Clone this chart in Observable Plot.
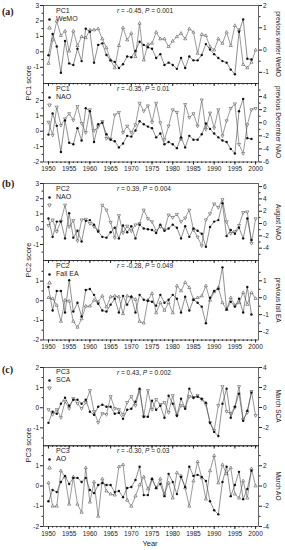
<!DOCTYPE html>
<html><head><meta charset="utf-8">
<script src="https://cdn.jsdelivr.net/npm/d3@7"></script>
<script src="https://cdn.jsdelivr.net/npm/@observablehq/plot@0.6"></script>
<style>
body{margin:0;background:#fff;}
#chart{position:relative;width:285px;height:550px;font-family:"Liberation Sans",Arial,sans-serif;color:#222;overflow:hidden;}
#chart > svg{position:absolute;left:0;}
.t{position:absolute;white-space:nowrap;font-size:7px;line-height:7px;}
.m{position:absolute;width:5px;height:5px;}
.lab{position:absolute;font-family:"Liberation Serif","Times New Roman",serif;font-weight:bold;font-size:10px;line-height:10px;}
.rot{position:absolute;white-space:nowrap;font-size:6.5px;line-height:7px;}
</style></head><body><div id="chart"></div><script>
const years = [1950,1951,1952,1953,1954,1955,1956,1957,1958,1959,1960,1961,1962,1963,1964,1965,1966,1967,1968,1969,1970,1971,1972,1973,1974,1975,1976,1977,1978,1979,1980,1981,1982,1983,1984,1985,1986,1987,1988,1989,1990,1991,1992,1993,1994,1995,1996,1997,1998,1999,2000];
const majorYears = [1950,1955,1960,1965,1970,1975,1980,1985,1990,1995,2000];

const pc1 = [-0.22,1.15,0.35,-1.35,0.7,-0.75,-0.85,0.2,-0.6,1.5,
 1.3,-0.7,0.45,0.55,-0.2,-0.55,-0.65,-1.05,-0.8,-0.3,
 -0.35,0.05,0.65,0.45,0.3,0.2,-0.4,-0.15,-0.85,-0.7,
 -0.85,-1.1,-0.4,-1.05,-0.3,-0.55,-0.55,-0.2,0.5,0.15,
 -0.15,-0.4,-0.6,-0.7,-1.15,-1.45,1.3,2.1,-0.45,-0.5];
const wemo = [-0.6,0.45,1.3,0.65,0.85,-0.05,0.85,0.2,0.6,0.55,
 0.9,0.9,0.95,0.5,0.1,-0.45,-0.8,0.2,1.0,0.45,
 0.75,-0.3,1.2,-0.45,0.25,0.3,0.8,0.5,0.5,0.15,
 0.4,0.6,0.75,0.5,0.95,0.8,-0.15,0.7,0.65,0.15,
 0.0,0.5,0.3,0.8,0.2,1.1,0.9,-0.65,-0.8,-0.55,0.0];
const naoDec = [0.1,-1.9,2.4,-0.4,0.6,1.4,0.4,2.5,-0.1,-1.5,
 2.0,-1.2,-0.6,0.2,-2.4,-2.5,1.2,1.6,-1.5,-0.5,
 -1.5,-0.3,3.0,1.8,2.6,0.1,3.0,0.0,-2.6,-0.5,
 2.0,1.6,-2.5,2.8,0.8,1.4,-0.5,3.5,-1.0,1.5,
 -0.8,2.0,-2.0,0.3,2.2,2.9,-3.3,-4.7,-0.3,2.0,2.2];
const pc2 = [0.7,-0.5,0.5,0.5,-0.6,1.05,-0.55,-0.1,-0.8,0.55,
 0.6,0.3,-0.15,-0.5,-0.55,-0.2,0.1,-0.6,0.25,-0.2,
 0.2,-0.6,0.3,0.05,0.0,-0.05,-0.25,0.3,-0.1,0.05,
 0.3,0.1,-0.6,0.2,-0.5,0.05,-0.1,-0.3,-1.15,0.15,
 0.5,0.6,1.7,-0.45,-0.05,-0.3,0.1,-0.6,0.7,-0.7];
const naoAug = [-0.3,0.6,-1.3,0.4,3.0,-0.5,0.5,-2.8,0.6,0.7,
 0.0,-0.5,-1.2,3.0,2.2,0.2,-2.3,1.3,-1.5,-0.4,
 -1.2,-0.2,0.0,2.2,0.8,0.3,-1.2,-0.5,-1.0,1.4,
 1.0,1.5,0.3,0.9,2.2,-1.0,-2.2,-3.6,0.6,1.6,
 3.2,2.6,3.9,0.3,-1.6,-1.3,-0.3,1.8,1.9,-3.2,0.8];
const fallEA = [0.0,-0.05,-0.45,-1.4,-0.15,-0.2,-1.4,-1.75,-1.25,-0.5,
 -0.5,-0.15,-0.25,0.1,-0.55,0.05,0.1,0.05,-0.95,0.1,
 0.05,-0.1,-1.4,-1.5,-0.15,0.25,-0.9,-0.3,-0.75,-0.3,
 -0.9,0.7,0.4,0.9,0.6,-0.1,0.0,0.1,0.7,-0.15,
 0.35,0.6,-0.3,-0.7,0.0,-0.45,-0.3,0.3,-0.4,0.3,-0.05];
const pc3 = [-0.75,-0.2,-0.3,0.2,0.5,0.1,0.4,0.4,0.2,0.4,
 -0.2,-0.35,0.05,0.15,0.05,0.05,-0.3,-0.25,-0.55,-0.1,
 -0.05,0.3,0.95,-0.45,-0.45,0.35,-0.1,0.1,-0.5,0.6,
 0.2,-0.4,0.45,-0.05,0.95,0.5,0.55,0.45,0.25,-0.75,
 -1.2,-1.4,0.2,0.95,-0.5,0.05,0.7,-0.65,-0.15,0.75];
const sca = [-0.2,-0.7,-0.2,-1.0,0.6,-0.1,0.9,0.4,-0.1,0.5,
 1.7,-0.4,-1.5,-0.6,-0.7,1.1,-0.1,-0.2,-0.7,0.5,
 1.1,0.2,1.7,-0.9,1.7,-0.2,0.8,0.3,0.5,-0.5,
 1.2,-0.8,0.2,0.0,1.1,1.0,1.2,0.8,0.3,-1.5,
 -2.3,0.2,2.1,-0.4,-0.6,0.0,2.1,-1.2,-0.5,1.6,-0.8];
const ao = [0.3,-2.0,-2.0,1.5,0.9,-1.8,0.9,-1.8,-2.6,1.8,
 -1.6,0.4,-3.0,0.7,-0.5,-0.8,-0.9,1.9,2.1,-1.4,
 -2.0,-1.0,0.1,0.9,-0.3,0.7,-0.2,0.7,-0.8,0.3,
 -1.2,1.3,1.0,-0.2,-2.0,0.5,2.4,0.8,-1.3,1.5,
 3.0,0.3,2.1,1.2,1.8,-0.8,-1.2,0.5,-1.2,1.7,0.0];

const panels = [
 {top:5, bottom:83, pc:pc1, idx:wemo, pcName:"PC1", idxName:"WeMO", down:false, lDom:[-2.05,3], lTicks:[-1,0,1,2,3], rDom:[-1.5,2], rTicks:[-1,0,1,2], rTitle:"previous winter WeMO", r:"-0.45", p:"0.001", xlab:false},
 {top:83, bottom:161.5, pc:pc1, idx:naoDec, pcName:"PC1", idxName:"NAO", down:true, lDom:[-2,3.1], lTicks:[-2,-1,0,1,2], rDom:[-6,6], rTicks:[-6,-4,-2,0,2,4], rTitle:"previous December NAO", r:"-0.35", p:"0.01", xlab:true},
 {top:183, bottom:260, pc:pc2, idx:naoAug, pcName:"PC2", idxName:"NAO", down:true, lDom:[-2.05,3], lTicks:[-1,0,1,2,3], rDom:[-6,6.5], rTicks:[-4,-2,0,2,4,6], rTitle:"August NAO", r:"0.39", p:"0.004", xlab:false},
 {top:260, bottom:339.5, pc:pc2, idx:fallEA, pcName:"PC2", idxName:"Fall EA", down:false, lDom:[-2,2.05], lTicks:[-2,-1,0,1], rDom:[-2.5,2.2], rTicks:[-2,-1,0,1], rTitle:"previous fall EA", r:"-0.28", p:"0.049", xlab:true},
 {top:366.5, bottom:445, pc:pc3, idx:sca, pcName:"PC3", idxName:"SCA", down:true, lDom:[-1.9,2], lTicks:[-1,0,1,2], rDom:[-3.85,4], rTicks:[-2,0,2,4], rTitle:"March SCA", r:"0.43", p:"0.002", xlab:false},
 {top:445, bottom:526, pc:pc3, idx:ao, pcName:"PC3", idxName:"AO", down:false, lDom:[-2,2], lTicks:[-2,-1,0,1], rDom:[-4,4], rTicks:[-4,-2,0,2], rTitle:"March AO", r:"-0.30", p:"0.03", xlab:true}
];
const groups = [
 {label:"(a)", labY:7, title:"PC1 score", mid:83},
 {label:"(b)", labY:179, title:"PC2 score", mid:260},
 {label:"(c)", labY:365, title:"PC3 score", mid:445}
];

const chart = document.getElementById("chart");
const FONT = "Liberation Sans, Arial, sans-serif";
const xDom = [1948.8, 2000.7];
const mt = 4, mb = 14;
const fmt = d => String(d);
const blank = () => "";
function halfTicks(t){ const s=t[1]-t[0]; const out=[]; for(const v of t){out.push(v+s/2);} out.push(t[0]-s/2); return out; }
function place(svg, top){ svg.style.position="absolute"; svg.style.top=top+"px"; svg.style.left="0px"; chart.appendChild(svg); }
function div(cls, html, css){ const d=document.createElement("div"); d.className=cls; d.innerHTML=html; Object.assign(d.style, css); chart.appendChild(d); return d; }
const circleIcon = '<svg width="5" height="5" viewBox="0 0 5 5"><circle cx="2.5" cy="2.5" r="1.3" fill="#111"/></svg>';
const upIcon = '<svg width="5" height="5" viewBox="0 0 5 5"><polygon points="2.5,0.8 4.3,4 0.7,4" fill="white" stroke="#444" stroke-width="0.6"/></svg>';
const downIcon = '<svg width="5" height="5" viewBox="0 0 5 5"><polygon points="2.5,4.2 4.3,1 0.7,1" fill="white" stroke="#444" stroke-width="0.6"/></svg>';

for (const p of panels) {
  const H = p.bottom - p.top + mt + mb;
  const style = {background:"transparent", overflow:"visible", fontSize:"6.5px", fontFamily:FONT, color:"#222"};
  const common = {width:285, height:H, marginLeft:43, marginRight:27, marginTop:mt, marginBottom:mb, style};
  const pcData = p.pc.map((v,i)=>({year:years[i], v}));
  const idxData = p.idx.map((v,i)=>({year:years[i], v}));
  const right = Plot.plot({...common,
    x:{domain:xDom, axis:null},
    y:{domain:p.rDom},
    marks:[
      Plot.axisY({anchor:"right", ticks:halfTicks(p.rTicks).filter(v=>v>p.rDom[0]&&v<p.rDom[1]), tickSize:1.5, tickFormat:blank, label:null, stroke:"#222"}),
      Plot.axisY({anchor:"right", ticks:p.rTicks, tickSize:3, tickPadding:1.5, tickFormat:fmt, label:null, stroke:"#222", fill:"#222"}),
      Plot.lineY(idxData, {x:"year", y:"v", stroke:"#555", strokeWidth:0.6}),
      Plot.dot(idxData, {x:"year", y:"v", symbol:"triangle", r:1.15, stroke:"#444", strokeWidth:0.55, fill:"white", rotate:p.down?180:0})
    ]});
  const left = Plot.plot({...common,
    x:{domain:xDom},
    y:{domain:p.lDom},
    marks:[
      Plot.axisX({ticks:years, tickSize:1.5, tickFormat:blank, label:null, stroke:"#222"}),
      Plot.axisX({ticks:majorYears, tickSize:3, tickPadding:1.5, tickFormat:p.xlab?fmt:blank, label:null, stroke:"#222", fill:"#222"}),
      Plot.axisY({ticks:halfTicks(p.lTicks).filter(v=>v>p.lDom[0]&&v<p.lDom[1]), tickSize:1.5, tickFormat:blank, label:null, stroke:"#222"}),
      Plot.axisY({ticks:p.lTicks, tickSize:3, tickPadding:1.5, tickFormat:fmt, label:null, stroke:"#222", fill:"#222"}),
      Plot.lineY(pcData, {x:"year", y:"v", stroke:"#444", strokeWidth:0.6}),
      Plot.dot(pcData, {x:"year", y:"v", r:1.2, fill:"#111"}),
      Plot.frame({stroke:"#222", strokeWidth:0.7})
    ]});
  place(right, p.top - mt);
  place(left, p.top - mt);
  div("m", circleIcon, {left:"47px", top:(p.top+2.5)+"px"});
  div("t", p.pcName, {left:"56px", top:(p.top+1.5)+"px"});
  div("m", p.down?downIcon:upIcon, {left:"47px", top:(p.top+10.5)+"px"});
  div("t", p.idxName, {left:"56px", top:(p.top+9.5)+"px"});
  div("t", "<i>r</i> = " + p.r + ", <i>P</i> = " + p.p, {left:"117px", top:(p.top+2)+"px", fontSize:"6.5px"});
  div("rot", p.rTitle, {left:"278px", top:((p.top+p.bottom)/2)+"px", transform:"translate(-50%,-50%) rotate(90deg)"});
}
for (const g of groups) {
  div("lab", g.label, {left:"2px", top:g.labY+"px"});
  div("rot", g.title, {left:"28px", top:g.mid+"px", transform:"translate(-50%,-50%) rotate(-90deg)", fontSize:"7.5px"});
}
div("t", "Year", {left:"150px", top:"540px", fontSize:"7.5px", transform:"translateX(-50%)"});
</script></body></html>
